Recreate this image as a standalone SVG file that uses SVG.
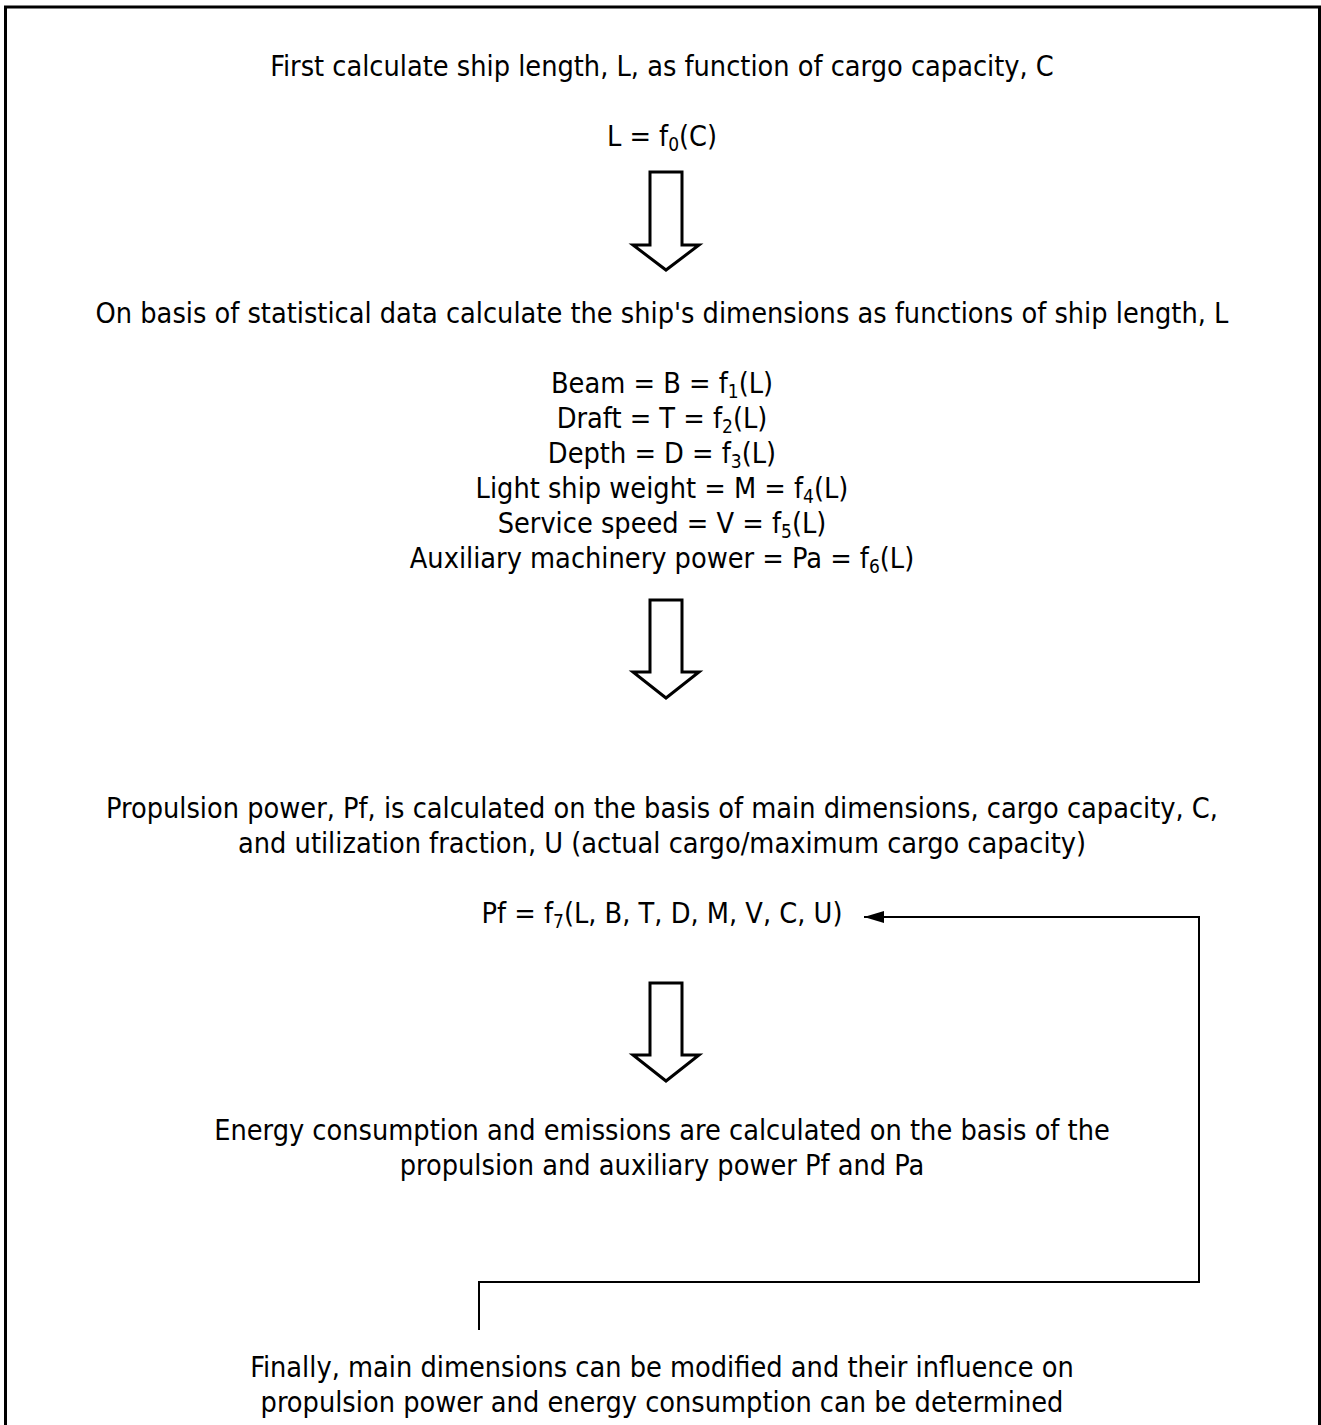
<svg xmlns="http://www.w3.org/2000/svg" width="1321" height="1425" viewBox="0 0 1321 1425">
<style>
text{font-family:"DejaVu Sans Condensed","DejaVu Sans","Noto Sans",sans-serif;font-stretch:condensed;font-size:28.6px;fill:#000;text-anchor:middle}
.sub{font-size:19px}
.arrow{fill:#fff;stroke:#000;stroke-width:3;stroke-linejoin:miter}
.conn{fill:none;stroke:#000;stroke-width:2}
</style>
<defs>
<marker id="ah" viewBox="0 0 20 12" refX="20" refY="6" markerWidth="20" markerHeight="12" markerUnits="userSpaceOnUse" orient="auto">
<path d="M0,0 L20,6 L0,12 Z" fill="#000"/>
</marker>
</defs>
<rect x="5.5" y="7" width="1314" height="1500" fill="#fff" stroke="#000" stroke-width="3"/>

<g id="step1">
<text x="662" y="76">First calculate ship length, L, as function of cargo capacity, C</text>
<text x="662" y="146">L = f<tspan class="sub" dy="5">0</tspan><tspan dy="-5">(C)</tspan></text>
</g>
<g id="arrow1"><polygon class="arrow" points="650,172 682,172 682,245 699,245 666,270 633,245 650,245"/></g>

<g id="step2">
<text x="662" y="323">On basis of statistical data calculate the ship's dimensions as functions of ship length, L</text>
<text x="662" y="393">Beam = B = f<tspan class="sub" dy="5">1</tspan><tspan dy="-5">(L)</tspan></text>
<text x="662" y="428">Draft = T = f<tspan class="sub" dy="5">2</tspan><tspan dy="-5">(L)</tspan></text>
<text x="662" y="463">Depth = D = f<tspan class="sub" dy="5">3</tspan><tspan dy="-5">(L)</tspan></text>
<text x="662" y="498">Light ship weight = M = f<tspan class="sub" dy="5">4</tspan><tspan dy="-5">(L)</tspan></text>
<text x="662" y="533">Service speed = V = f<tspan class="sub" dy="5">5</tspan><tspan dy="-5">(L)</tspan></text>
<text x="662" y="568">Auxiliary machinery power = Pa = f<tspan class="sub" dy="5">6</tspan><tspan dy="-5">(L)</tspan></text>
</g>
<g id="arrow2"><polygon class="arrow" points="650,600 682,600 682,672 699,672 666,698 633,672 650,672"/></g>

<g id="step3">
<text x="662" y="818">Propulsion power, Pf, is calculated on the basis of main dimensions, cargo capacity, C,</text>
<text x="662" y="853">and utilization fraction, U (actual cargo/maximum cargo capacity)</text>
<text x="662" y="923">Pf = f<tspan class="sub" dy="5">7</tspan><tspan dy="-5">(L, B, T, D, M, V, C, U)</tspan></text>
</g>
<g id="arrow3"><polygon class="arrow" points="650,983 682,983 682,1055 699,1055 666,1081 633,1055 650,1055"/></g>

<g id="step4">
<text x="662" y="1140">Energy consumption and emissions are calculated on the basis of the</text>
<text x="662" y="1175">propulsion and auxiliary power Pf and Pa</text>
</g>

<g id="step5">
<text x="662" y="1377">Finally, main dimensions can be modified and their influence on</text>
<text x="662" y="1412">propulsion power and energy consumption can be determined</text>
</g>

<g id="connectors">
<polyline class="conn" points="479,1330 479,1282 1199,1282 1199,917 864,917" marker-end="url(#ah)"/>
</g>
</svg>
